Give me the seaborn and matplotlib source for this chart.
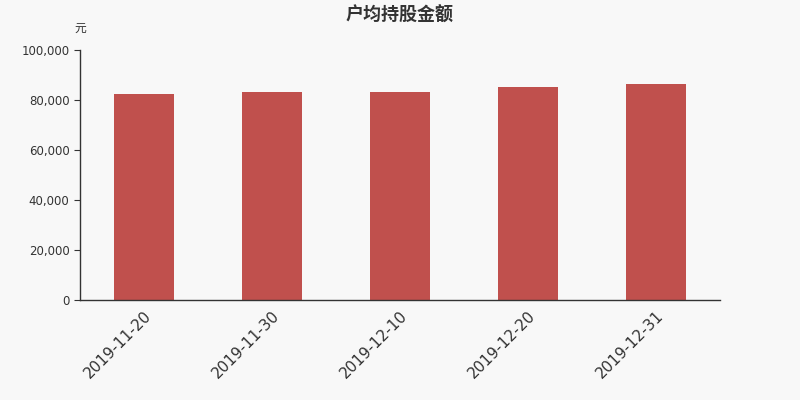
import matplotlib
matplotlib.use('Agg')
import matplotlib.pyplot as plt
import seaborn as sns
import pandas as pd
from matplotlib.ticker import FuncFormatter

dates = ['2019-11-20', '2019-11-30', '2019-12-10', '2019-12-20', '2019-12-31']
amounts = [82500, 83400, 83300, 85300, 86600]

df = pd.DataFrame({'date': dates, 'amount': amounts})

sns.set_style('white')
plt.rcParams['font.family'] = ['DejaVu Sans', 'Noto Sans CJK SC']

bg = '#f8f8f8'
fig = plt.figure(figsize=(8, 4), dpi=100, facecolor=bg)
ax = fig.add_axes([0.1, 0.25, 0.8, 0.625])
ax.set_facecolor(bg)

sns.barplot(data=df, x='date', y='amount', color='#c0504d', width=0.47,
            saturation=1, linewidth=0, ax=ax)

ax.set_xlim(-0.5, len(dates) - 0.5)
ax.set_ylim(0, 100000)
ax.set_yticks(range(0, 100001, 20000))
ax.yaxis.set_major_formatter(FuncFormatter(lambda v, p: f'{int(v):,}'))

# category boundary ticks
ax.set_xticks([i - 0.5 for i in range(len(dates) + 1)], minor=True)
ax.tick_params(axis='x', which='minor', length=5, color='#333333', width=1)
ax.tick_params(axis='x', which='major', length=0, labelsize=11, labelcolor='#333333', pad=6)
ax.tick_params(axis='y', length=4, color='#333333', labelsize=8.5, labelcolor='#333333', left=True)
plt.setp(ax.get_xticklabels(), rotation=45, ha='right', rotation_mode='anchor')

for s in ['top', 'right']:
    ax.spines[s].set_visible(False)
for s in ['left', 'bottom']:
    ax.spines[s].set_color('#333333')
    ax.spines[s].set_linewidth(1)

ax.set_xlabel('')
ax.set_ylabel('')
fig.text(0.5, 0.963, '户均持股金额', ha='center', va='center', fontsize=13,
         fontweight='bold', color='#333333', family=['Noto Sans CJK SC'])
fig.text(0.1, 0.93, '元', ha='center', va='center', fontsize=8.5, color='#333333',
         family=['Noto Sans CJK SC'])

fig.savefig('out.png', dpi=100, facecolor=bg)
